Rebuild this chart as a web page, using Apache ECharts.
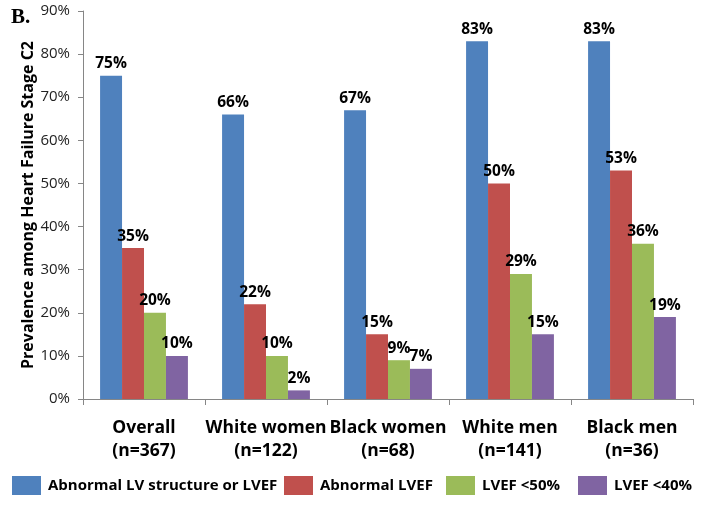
<!DOCTYPE html>
<html>
<head>
<meta charset="utf-8">
<script src="https://cdn.jsdelivr.net/npm/echarts@6/dist/echarts.min.js"></script>
<style>
html, body { margin: 0; padding: 0; background: #fff; }
#chart { width: 704px; height: 507px; }
</style>
</head>
<body>
<div id="chart"></div>
<script>
const categories = ['Overall\n(n=367)', 'White women\n(n=122)', 'Black women\n(n=68)', 'White men\n(n=141)', 'Black men\n(n=36)'];
const seriesNames = ['Abnormal LV structure or LVEF', 'Abnormal LVEF', 'LVEF <50%', 'LVEF <40%'];
const abnormalStructure = [75, 66, 67, 83, 83];
const abnormalLvef = [35, 22, 15, 50, 53];
const lvef50 = [20, 10, 9, 29, 36];
const lvef40 = [10, 2, 7, 15, 19];
const yTicks = [0, 10, 20, 30, 40, 50, 60, 70, 80, 90];
const colors = ['#4F81BD', '#C0504D', '#9BBB59', '#8064A2'];

const font = '"Open Sans", "Liberation Sans", sans-serif';
const chart = echarts.init(document.getElementById('chart'));

const values = [abnormalStructure, abnormalLvef, lvef50, lvef40];
const series = values.map((data, i) => ({
    name: seriesNames[i],
    type: 'bar',
    data: data,
    barGap: 0,
    barCategoryGap: '28%',
    itemStyle: { color: colors[i] },
    label: {
        show: true,
        position: 'top',
        distance: 4,
        formatter: '{c}%',
        color: '#000',
        fontFamily: font,
        fontWeight: 'bold',
        fontSize: 15.5
    }
}));

// one legend per item so each sits where it is in the original
const legendLeft = [12, 284, 446, 578];
const legends = seriesNames.map((name, i) => ({
    left: legendLeft[i],
    top: 476,
    padding: 0,
    itemWidth: 29,
    itemHeight: 19,
    icon: 'rect',
    data: [name],
    textStyle: { fontFamily: font, fontWeight: 'bold', fontSize: 15, color: '#000', padding: [0, 0, 0, 2] }
}));

chart.setOption({
    animation: false,
    title: {
        text: 'B.',
        left: 6,
        top: 2,
        textStyle: { fontFamily: '"Liberation Serif", "DejaVu Serif", serif', fontWeight: 'bold', fontSize: 21, color: '#000' }
    },
    grid: { left: 83, right: 11, top: 11, bottom: 108 },
    legend: legends,
    xAxis: {
        type: 'category',
        data: categories,
        axisLine: { lineStyle: { color: '#868686' } },
        axisTick: { show: true, length: 6, lineStyle: { color: '#868686' } },
        axisLabel: {
            margin: 18,
            color: '#000',
            fontFamily: font,
            fontWeight: 'bold',
            fontSize: 17.5,
            lineHeight: 23,
            interval: 0
        }
    },
    yAxis: {
        type: 'value',
        min: yTicks[0],
        max: yTicks[yTicks.length - 1],
        interval: 10,
        name: 'Prevalence among Heart Failure Stage C2',
        nameLocation: 'middle',
        nameGap: 47,
        nameMoveOverlap: false,
        nameTextStyle: { fontFamily: font, fontWeight: 'bold', fontSize: 16, color: '#000' },
        splitLine: { show: false },
        axisLine: { show: true, lineStyle: { color: '#868686' } },
        axisTick: { show: true, length: 5, lineStyle: { color: '#868686' } },
        axisLabel: {
            margin: 13,
            color: '#222',
            fontFamily: font,
            fontSize: 15,
            formatter: '{value}%'
        }
    },
    series: series
});
</script>
</body>
</html>
